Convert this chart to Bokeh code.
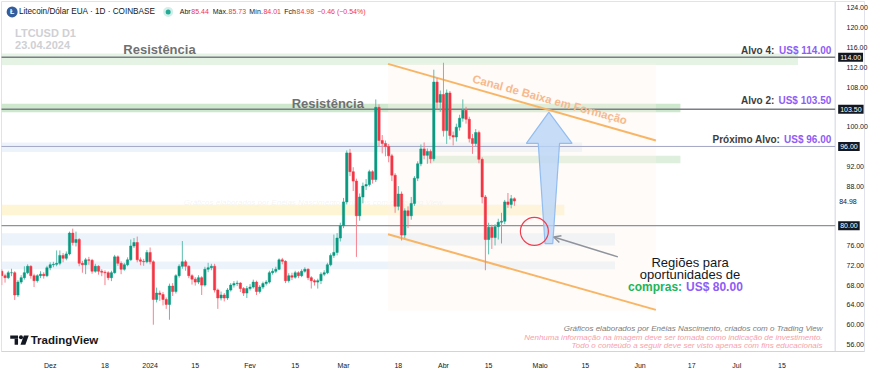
import numpy as np
import pandas as pd
from bokeh.plotting import figure
from bokeh.models import ColumnDataSource, Label, FixedTicker, Range1d, Arrow, OpenHead
from bokeh.embed import file_html
from bokeh.resources import INLINE

# ---------------- data ----------------
start_date = "2023-11-16"
first_open = 70.8
closes = [
    69.9, 69.5, 70.5, 70.5, 66.0, 68.6, 69.5, 70.5, 71.8, 69.9,
    68.9, 69.9, 70.2, 69.9, 71.5, 72.1, 72.2, 72.4, 74.0, 73.4,
    74.3, 78.5, 76.6, 77.2, 72.4, 72.1, 73.1, 73.0, 70.8, 71.8,
    70.8, 70.6, 70.5, 69.5, 70.5, 73.7, 72.4, 71.2, 72.1, 73.1,
    75.9, 76.6, 73.1, 72.8, 72.7, 74.6, 72.7, 65.1, 66.4, 66.1,
    65.1, 64.1, 67.8, 66.7, 69.9, 71.8, 72.7, 71.8, 69.9, 69.2,
    68.6, 69.5, 68.0, 71.2, 71.5, 71.8, 67.0, 65.4, 66.0, 65.4,
    67.0, 68.0, 68.3, 68.4, 67.3, 66.4, 67.3, 67.6, 68.6, 66.7,
    67.6, 68.3, 68.6, 70.5, 70.8, 71.2, 73.1, 72.8, 68.9, 69.9,
    69.6, 70.5, 69.9, 70.8, 71.2, 69.5, 68.9, 68.6, 68.9, 70.2,
    70.5, 72.1, 74.0, 74.6, 77.5, 80.0, 84.8, 94.7, 90.9, 89.0,
    82.0, 85.8, 88.0, 88.3, 90.9, 89.3, 103.9, 97.2, 96.6, 96.0,
    94.1, 90.2, 83.9, 86.4, 78.1, 83.0, 82.0, 84.5, 89.6, 92.5,
    95.5, 94.2, 95.0, 93.5, 109.0, 104.9, 106.5, 99.2, 106.8, 98.2,
    97.9, 99.9, 101.7, 103.3, 101.5, 97.6, 96.6, 98.8, 93.4, 85.8,
    77.2, 79.7, 77.6, 79.8, 80.7, 80.9, 84.8, 84.3, 85.44, 84.98,
]
highs = [
    71.2, 70.3, 70.9, 71.3, 70.8, 69.0, 70.0, 71.8, 72.2, 72.0,
    70.3, 70.2, 70.8, 70.6, 71.9, 72.6, 72.7, 75.0, 75.0, 74.5,
    74.8, 78.8, 79.4, 78.8, 77.5, 72.9, 73.5, 73.7, 73.3, 72.3,
    72.0, 71.2, 71.0, 70.8, 70.9, 74.1, 74.0, 72.8, 72.5, 73.6,
    77.2, 77.5, 77.8, 73.6, 73.3, 75.1, 75.6, 73.0, 67.5, 66.9,
    66.6, 65.5, 68.3, 68.4, 70.2, 72.2, 76.9, 73.1, 72.0, 70.2,
    69.6, 70.0, 69.8, 71.7, 72.5, 72.3, 72.3, 67.3, 66.7, 66.4,
    67.4, 68.4, 68.8, 68.9, 68.6, 67.6, 67.8, 68.2, 69.1, 68.9,
    68.0, 68.7, 69.0, 70.9, 71.4, 71.7, 73.4, 73.5, 73.0, 70.4,
    70.5, 70.9, 70.8, 71.2, 71.6, 71.4, 69.8, 69.2, 69.3, 70.6,
    71.0, 72.5, 74.4, 78.2, 78.5, 80.6, 85.6, 95.2, 95.5, 91.8,
    89.5, 86.5, 88.7, 89.4, 91.3, 91.2, 105.5, 104.5, 98.3, 97.2,
    96.5, 94.5, 90.6, 88.0, 86.9, 83.5, 83.9, 85.8, 90.0, 93.0,
    96.4, 96.8, 95.6, 95.4, 111.5, 109.8, 107.3, 112.9, 107.5, 107.2,
    99.0, 100.6, 102.4, 105.5, 104.0, 102.0, 98.5, 99.5, 99.2, 93.8,
    86.2, 80.6, 80.2, 80.3, 81.4, 82.6, 85.2, 86.6, 86.2, 85.73,
]
lows = [
    68.0, 68.5, 69.2, 69.8, 65.0, 65.6, 68.2, 69.1, 70.2, 69.3,
    67.6, 68.5, 69.4, 69.3, 69.6, 71.0, 71.6, 71.8, 72.0, 72.6,
    73.0, 74.0, 76.0, 75.8, 71.8, 70.5, 70.2, 72.1, 70.3, 70.5,
    70.1, 69.8, 68.0, 69.0, 68.8, 70.3, 71.9, 70.2, 70.9, 71.8,
    72.9, 75.5, 72.6, 72.0, 71.9, 72.4, 72.2, 60.0, 64.5, 64.8,
    63.9, 63.2, 61.0, 65.8, 66.3, 69.5, 71.3, 70.9, 69.4, 68.1,
    67.9, 68.2, 66.0, 67.7, 70.6, 71.0, 66.5, 63.2, 64.9, 64.7,
    65.0, 66.7, 67.5, 67.8, 66.6, 65.8, 65.4, 66.9, 67.3, 66.0,
    66.3, 67.2, 67.9, 68.3, 70.1, 70.4, 71.0, 72.2, 68.4, 68.5,
    69.0, 69.3, 69.4, 69.6, 70.5, 69.0, 67.3, 67.9, 67.3, 68.2,
    69.8, 70.2, 71.8, 73.5, 74.0, 76.8, 79.5, 84.3, 90.0, 87.0,
    73.7, 81.0, 84.5, 87.2, 87.9, 88.5, 88.8, 96.0, 94.6, 94.0,
    92.8, 89.0, 82.6, 83.1, 77.0, 77.5, 79.5, 81.2, 84.0, 89.0,
    92.0, 93.4, 92.5, 92.6, 93.0, 103.5, 103.0, 98.0, 96.5, 97.4,
    96.2, 97.0, 99.2, 101.0, 100.6, 96.8, 94.5, 96.0, 92.6, 84.5,
    71.0, 74.2, 75.3, 76.0, 77.2, 76.4, 80.3, 83.6, 83.5, 84.01,
]

tick_dates = ["2023-12-01", "2023-12-18", "2024-01-01", "2024-01-15", "2024-02-01",
              "2024-02-15", "2024-03-01", "2024-03-18", "2024-04-01", "2024-04-15",
              "2024-05-01", "2024-05-15", "2024-06-01", "2024-06-17", "2024-07-01",
              "2024-07-15"]
tick_labels = ["Dez", "18", "2024", "15", "Fev", "15", "Mar", "18", "Abr", "15",
               "Maio", "15", "Jun", "17", "Jul", "15"]
# price-scale labels left visible (80, 84, 96 and 104 sit under the level boxes)
price_ticks = [56, 60, 64, 68, 72, 76, 88, 92, 100, 108, 112, 116, 120, 124]
target_levels = [114.0, 103.5, 96.0, 80.0]
last_price = 84.98

# ---------------- derived ----------------
t0 = pd.Timestamp(start_date)
day = np.arange(len(closes))
opens = [first_open] + closes[:-1]
UP, DOWN = "#089981", "#f23645"
UPW, DOWNW = "#5fbfae", "#f5838f"
is_up = [c >= o for o, c in zip(opens, closes)]
src = ColumnDataSource(dict(
    x=day, h=highs, l=lows,
    top=[max(o, c) for o, c in zip(opens, closes)],
    bot=[min(o, c) for o, c in zip(opens, closes)],
    color=[UP if u else DOWN for u in is_up],
    wick=[UPW if u else DOWNW for u in is_up],
))
tick_pos = [int((pd.Timestamp(d) - t0).days) for d in tick_dates]

X0, XAX, X1 = -0.1, 258.5, 267.6   # left edge, price-scale edge, right edge (day units)
Y0, Y1 = 54.59, 125.27
p = figure(width=870, height=371, x_range=Range1d(X0, X1), y_range=Range1d(Y0, Y1),
           output_backend="svg", toolbar_location=None, y_axis_location="right",
           min_border_left=1, min_border_right=1, min_border_top=1, min_border_bottom=17,
           background_fill_color="white", border_fill_color="white",
           outline_line_color="#e0e3eb")
p.grid.visible = False

FONT = "Liberation Sans"
for ax in (p.xaxis[0], p.yaxis[0]):
    ax.major_tick_line_color = None
    ax.minor_tick_line_color = None
    ax.major_label_text_font_size = "7px"
    ax.major_label_text_color = "#131722"
    ax.major_label_text_font = FONT
p.xaxis.axis_line_color = "#d1d4dc"
p.xaxis.ticker = FixedTicker(ticks=tick_pos)
p.xaxis.major_label_overrides = {t: lab for t, lab in zip(tick_pos, tick_labels)}
p.xaxis.major_label_standoff = 4
# price scale: labels pulled back over the scale column at the right of the chart
p.yaxis.ticker = FixedTicker(ticks=price_ticks)
p.yaxis.major_label_overrides = {t: f"{t:.2f}" for t in price_ticks}
p.yaxis.axis_line_color = None
p.yaxis.major_label_standoff = -24
p.segment(x0=XAX, y0=Y0, x1=XAX, y1=Y1, line_color="#d1d4dc", line_width=1)

# ---------------- zones (drawings anchored at day / price) ----------------
zones = [  # left, right, bottom, top, color, alpha
    (X0, 247.0, 112.47, 114.77, "#d9eed9", 0.7),
    (X0, 210.5, 102.92, 104.64, "#c5e4c5", 0.85),
    (131.9, 210.5, 92.61, 94.14, "#d3ead3", 0.75),
    (X0, 180.0, 94.90, 96.81, "#e6eefa", 0.7),
    (X0, 190.2, 75.99, 78.47, "#e6eefa", 0.7),
    (X0, 190.2, 71.21, 72.74, "#e6eefa", 0.7),
    (X0, 174.5, 82.10, 84.20, "#fcf1c4", 0.75),
    (119.8, 202.9, 62.81, 112.86, "#fcf4ec", 0.35),
]
for l_, r_, b_, t_, c_, a_ in zones:
    p.quad(left=l_, right=r_, bottom=b_, top=t_, fill_color=c_, fill_alpha=a_, line_color=None)

line_styles = {114.0: ("#7b7e86", 1.5), 103.5: ("#7b7e86", 1.5), 96.0: ("#a3a6c4", 1.0), 80.0: ("#8f929a", 1.3)}
for lvl in target_levels:
    col, lw = line_styles[lvl]
    p.segment(x0=X0 - 5, y0=lvl, x1=XAX, y1=lvl, line_color=col, line_width=lw)

# channel lines
p.segment(x0=[119.8, 119.8], y0=[112.67, 78.28], x1=[202.9, 202.9], y1=[97.19, 63.0],
          line_color="#f8b565", line_width=2)

# candles
p.segment(x0="x", y0="h", x1="x", y1="l", line_color="wick", line_width=1, source=src)
p.vbar(x="x", width=0.72, top="top", bottom="bot", fill_color="color", line_color="color",
       line_width=0.5, source=src)

# blue arrow
p.patch(x=[169.7, 176.9, 173.0, 170.9, 168.5, 166.4, 162.7],
        y=[102.92, 96.62, 96.62, 76.37, 76.37, 96.62, 96.62],
        fill_color="#b9d5f6", fill_alpha=0.8, line_color="#92bdf0", line_width=1.2)

# red circle
p.scatter(x=[165.2], y=[78.85], marker="circle", size=28, fill_color=None,
          line_color="#ef3f4f", line_width=1.2)

# gray arrow
p.add_layout(Arrow(end=OpenHead(size=7, line_color="#8f939c", line_width=1.5),
                   x_start=191.1, y_start=73.70, x_end=171.2, y_end=77.71,
                   line_color="#8f939c", line_width=1.5))

def lab(x, y, text, size="10px", color="#131722", style="normal", align="left",
        baseline="middle", x_offset=0, angle=0, alpha=1.0, level="annotation", **kw):
    p.add_layout(Label(x=x, y=y, text=text, text_font=FONT, text_font_size=size,
                       text_color=color, text_font_style=style, text_align=align,
                       text_baseline=baseline, x_offset=x_offset, angle=angle,
                       text_alpha=alpha, level=level, **kw))

# faint watermark behind candles
lab(96.6, 84.58, "Gráficos elaborados por Enéias Nascimento, criados com o Trading View",
    size="8px", color="#9a9a9a", style="italic", align="center", alpha=0.12, level="underlay")

# resistance texts
lab(37.7, 115.53, "Resistência", size="13px", color="#707070", style="bold")
lab(89.9, 104.64, "Resistência", size="13px", color="#707070", style="bold")

# channel text
lab(146.1, 109.75, "Canal de Baixa em Formação", size="11.5px", color="#f7b98c",
    style="bold", angle=-0.268)

# targets (right side)
PURPLE = "#8e5cf7"
XR = 257.3
for y_, name, price, off in [(115.34, "Alvo 4:", "US$ 114.00", -57),
                             (105.21, "Alvo 2:", "US$ 103.50", -57),
                             (97.38, "Próximo Alvo:", "US$ 96.00", -51)]:
    lab(XR, y_, price, size="10px", color=PURPLE, style="bold", align="right")
    lab(XR, y_, name, size="10px", color="#3d3d3d", style="bold", align="right", x_offset=off)

# buy region text
lab(213.5, 72.55, "Regiões para", size="13px", align="center")
lab(213.5, 70.07, "oportunidades de", size="13px", align="center")
lab(213.5, 67.58, "compras:", size="12px", color="#22b45a", style="bold", align="right", x_offset=-8)
lab(213.5, 67.58, "US$ 80.00", size="12px", color=PURPLE, style="bold", align="left", x_offset=-4)

# header
p.scatter(x=[3.2], y=[123.17], marker="circle", size=11, fill_color="#345d9d", line_color=None)
lab(3.2, 123.17, "Ł", size="7px", color="white", style="bold", align="center")
lab(5.3, 123.17, "Litecoin/Dólar EUA · 1D · COINBASE", size="8.2px", color="#131722")
p.scatter(x=[51.6], y=[123.17], marker="circle", size=10, fill_color="#22ab94",
          fill_alpha=0.2, line_color=None)
p.scatter(x=[51.6], y=[123.17], marker="circle", size=5, fill_color="#22ab94", line_color=None)
ohlc = [("Abr", 0, "#131722"), ("85.44", 11.5, DOWN), ("Máx.", 33, "#131722"), ("85.73", 48.8, DOWN),
        ("Mín.", 69.5, "#131722"), ("84.01", 83.7, DOWN), ("Fch", 104.5, "#131722"),
        ("84.98", 116.8, DOWN), ("−0.46 (−0.54%)", 137.5, DOWN)]
for t_, off, c_ in ohlc:
    lab(55.2, 123.17, t_, size="7px", color=c_, x_offset=off)

lab(4.1, 118.97, "LTCUSD D1", size="11px", color="#cfd0d4", style="bold")
lab(4.1, 116.49, "23.04.2024", size="11px", color="#cfd0d4", style="bold")

# TradingView logo
p.quad(left=[2.61, 3.97], right=[5.03, 5.03], bottom=[57.17, 55.93], top=[57.84, 57.17],
       fill_color="#131722", line_color=None)
p.scatter(x=[5.94], y=[57.46], marker="circle", size=4, fill_color="#131722", line_color=None)
p.patch(x=[6.84, 8.35, 7.30, 5.79], y=[57.84, 57.84, 55.93, 55.93], fill_color="#131722", line_color=None)
lab(8.96, 56.89, "TradingView", size="11.5px", color="#131722", style="bold")

# credits bottom right
lab(254.6, 59.18, "Gráficos elaborados por Enéias Nascimento, criados com o Trading View",
    size="8px", color="#7d7d7d", style="italic", align="right")
lab(254.6, 57.46, "Nenhuma informação na imagem deve ser tomada como indicação de investimento.",
    size="8px", color="#f7a1aa", style="italic", align="right")
lab(254.6, 55.74, "Todo o conteúdo a seguir deve ser visto apenas com fins educacionais",
    size="8px", color="#f7a1aa", style="italic", align="right")

# price-scale boxes
for lvl in target_levels:
    p.add_layout(Label(x=XAX, y=lvl, text=f"{lvl:.2f}", text_font=FONT, text_font_size="7px",
                       text_color="white", text_align="left", text_baseline="middle",
                       x_offset=3, background_fill_color="#131722", padding=2))
p.add_layout(Label(x=XAX, y=last_price, text=f"{last_price:.2f}", text_font=FONT,
                   text_font_size="7px", text_color="#131722", text_align="left",
                   text_baseline="middle", x_offset=3, background_fill_color="white", padding=1))

open("out.html", "w").write(file_html(p, INLINE))
